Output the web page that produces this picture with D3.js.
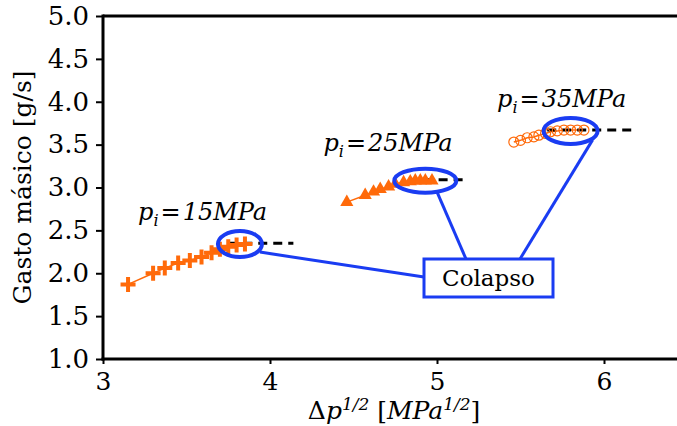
<!DOCTYPE html>
<html>
<head>
<meta charset="utf-8">
<script src="https://cdn.jsdelivr.net/npm/d3@7"></script>
<style>
  html, body { margin: 0; padding: 0; background: #fff; }
  svg { display: block; }
  text { font-family: "DejaVu Serif", serif; fill: #000; }
</style>
</head>
<body>
<svg id="chart" width="677" height="426"></svg>
<script>
// Mass flow versus square root of pressure drop, three inlet pressures
const series15x = [3.15, 3.30, 3.37, 3.45, 3.52, 3.59, 3.65, 3.70, 3.75, 3.80, 3.85];
const series15y = [1.87, 2.00, 2.06, 2.12, 2.15, 2.19, 2.24, 2.28, 2.31, 2.33, 2.34];
const series25x = [4.46, 4.57, 4.62, 4.66, 4.71, 4.75, 4.80, 4.84, 4.87, 4.90, 4.93, 4.97];
const series25y = [2.83, 2.91, 2.95, 2.98, 3.01, 3.04, 3.06, 3.07, 3.08, 3.08, 3.08, 3.08];
const series35x = [5.46, 5.50, 5.54, 5.58, 5.61, 5.65, 5.68, 5.72, 5.76, 5.80, 5.84, 5.88];
const series35y = [3.53, 3.55, 3.58, 3.59, 3.61, 3.63, 3.65, 3.66, 3.67, 3.67, 3.67, 3.67];

// Collapse (plateau) levels: start, end, value
const plateauStart = [3.75, 4.83, 5.66];
const plateauEnd   = [4.14, 5.18, 6.18];
const plateauValue = [2.35, 3.09, 3.67];

// Pressure labels
const pressureLabels = ["15MPa", "25MPa", "35MPa"];
const labelX = [3.21, 4.32, 5.36];
const labelY = [2.62, 3.43, 3.94];

// Collapse ellipses (centre in data units)
const ringX = [3.82, 4.93, 5.80];
const ringY = [2.34, 3.08, 3.66];

const xTicks = [3, 4, 5, 6];
const yTicks = [1.0, 1.5, 2.0, 2.5, 3.0, 3.5, 4.0, 4.5, 5.0];

const ORANGE = "#ff6a0a";
const BLUE = "#1a3cf2";

const svg = d3.select("#chart");
const W = 677, H = 426;
const m = { left: 103, top: 16, bottom: 67 };
const x = d3.scaleLinear().domain([3, 6.45]).range([m.left, m.left + 3.45 * 167]);
const y = d3.scaleLinear().domain([1, 5]).range([H - m.bottom, m.top]);

// Top frame line
svg.append("line")
  .attr("x1", x(3)).attr("x2", W + 5)
  .attr("y1", y(5)).attr("y2", y(5))
  .attr("stroke", "#000").attr("stroke-width", 3);

// X axis
const gx = svg.append("g").attr("transform", `translate(0,${y(1)})`);
gx.call(d3.axisBottom(x).tickValues(d3.range(3, 6.5, 0.25)).tickSize(5).tickFormat(""));
gx.call(d3.axisBottom(x).tickValues(xTicks).tickSize(5).tickFormat(d3.format("d")));
gx.selectAll("path.domain").remove();
gx.append("line").attr("x1", x(3) - 1.5).attr("x2", W + 5)
  .attr("stroke", "#000").attr("stroke-width", 3);
gx.selectAll(".tick line").attr("stroke", "#000").attr("stroke-width", 2);
gx.selectAll(".tick text")
  .attr("font-size", 25).attr("font-family", "DejaVu Serif").attr("fill", "#000").attr("dy", "0.9em");

// Y axis
const gy = svg.append("g").attr("transform", `translate(${x(3)},0)`);
gy.call(d3.axisLeft(y).tickValues(d3.range(1, 5.001, 0.1)).tickSize(4).tickFormat(""));
gy.call(d3.axisLeft(y).tickValues(yTicks).tickSize(7).tickFormat(d3.format(".1f")));
gy.selectAll("path.domain").remove();
gy.append("line").attr("y1", y(5) - 1.5).attr("y2", y(1) + 1.5)
  .attr("stroke", "#000").attr("stroke-width", 3);
gy.selectAll(".tick line").attr("stroke", "#000").attr("stroke-width", 2);
gy.selectAll(".tick text")
  .attr("font-size", 26).attr("font-family", "DejaVu Serif").attr("fill", "#000").attr("x", -14);

// Axis titles
svg.append("text")
  .attr("transform", `translate(31,${(y(1) + y(5)) / 2}) rotate(-90)`)
  .attr("text-anchor", "middle").attr("font-size", 25)
  .text("Gasto másico [g/s]");

const xl = svg.append("text")
  .attr("x", (x(3) + x(6.45)) / 2 + 3).attr("y", 419)
  .attr("text-anchor", "middle").attr("font-size", 25);
xl.append("tspan").text("Δ");
xl.append("tspan").attr("font-style", "italic").text("p");
xl.append("tspan").attr("font-style", "italic").attr("font-size", 17).attr("dy", -9).text("1/2");
xl.append("tspan").attr("dy", 9).text(" [");
xl.append("tspan").attr("font-style", "italic").text("MPa");
xl.append("tspan").attr("font-style", "italic").attr("font-size", 17).attr("dy", -9).text("1/2");
xl.append("tspan").attr("dy", 9).text("]");

// Series lines and markers
const line = d3.line().x(d => x(d[0])).y(d => y(d[1]));
function drawLine(xs, ys) {
  svg.append("path").datum(d3.zip(xs, ys))
    .attr("d", line).attr("fill", "none")
    .attr("stroke", ORANGE).attr("stroke-width", 1.5);
}
drawLine(series15x, series15y);
drawLine(series25x, series25y);
drawLine(series35x, series35y);

// Plateau dashed lines
d3.range(3).forEach(i => {
  svg.append("line")
    .attr("x1", x(plateauStart[i])).attr("x2", x(plateauEnd[i]))
    .attr("y1", y(plateauValue[i])).attr("y2", y(plateauValue[i]))
    .attr("stroke", "#000").attr("stroke-width", 3)
    .attr("stroke-dasharray", "9,6");
});

// Plus markers
svg.append("g").selectAll("path").data(d3.zip(series15x, series15y)).join("path")
  .attr("transform", d => `translate(${x(d[0])},${y(d[1])})`)
  .attr("d", "M-7.5,0H7.5M0,-7.5V7.5")
  .attr("fill", "none").attr("stroke", ORANGE).attr("stroke-width", 4);

// Triangle markers
svg.append("g").selectAll("path").data(d3.zip(series25x, series25y)).join("path")
  .attr("d", d3.symbol(d3.symbolTriangle, 75))
  .attr("transform", d => `translate(${x(d[0])},${y(d[1])})`)
  .attr("fill", ORANGE);

// Open circle markers
svg.append("g").selectAll("circle").data(d3.zip(series35x, series35y)).join("circle")
  .attr("cx", d => x(d[0])).attr("cy", d => y(d[1])).attr("r", 5)
  .attr("fill", "none").attr("stroke", ORANGE).attr("stroke-width", 1.2);

// Pressure labels
d3.range(3).forEach(i => {
  const t = svg.append("text")
    .attr("x", x(labelX[i])).attr("y", y(labelY[i]))
    .attr("font-size", 24).attr("font-style", "italic");
  t.append("tspan").text("p");
  t.append("tspan").attr("font-size", 16).attr("dy", 6).text("i");
  t.append("tspan").attr("dy", -6).attr("dx", 2).attr("font-style", "normal").text("=");
  t.append("tspan").attr("dx", 2).text(pressureLabels[i]);
});

// Collapse callout box and leader lines
const box = { x: 424, y: 259, w: 129, h: 38 };
const leaders = [
  [x(ringX[0]) + 20, y(ringY[0]) + 8],
  [x(ringX[1]) + 12, y(ringY[1]) + 12],
  [x(ringX[2]) + 22, y(ringY[2]) + 9]
];
const ends = [
  [box.x, box.y + 18],
  [box.x + 42, box.y],
  [box.x + 96, box.y]
];
leaders.forEach((p, i) => {
  svg.append("line")
    .attr("x1", p[0]).attr("y1", p[1]).attr("x2", ends[i][0]).attr("y2", ends[i][1])
    .attr("stroke", BLUE).attr("stroke-width", 3);
});
const rx = [22, 31, 27], ry = [13, 12, 13];
d3.range(3).forEach(i => {
  svg.append("ellipse")
    .attr("cx", x(ringX[i])).attr("cy", y(ringY[i]))
    .attr("rx", rx[i]).attr("ry", ry[i])
    .attr("fill", "none").attr("stroke", BLUE).attr("stroke-width", 4);
});
svg.append("rect")
  .attr("x", box.x).attr("y", box.y).attr("width", box.w).attr("height", box.h)
  .attr("fill", "#fff").attr("stroke", BLUE).attr("stroke-width", 3);
svg.append("text")
  .attr("x", box.x + box.w / 2).attr("y", box.y + box.h / 2 + 8)
  .attr("text-anchor", "middle").attr("font-size", 23)
  .text("Colapso");
</script>
</body>
</html>
